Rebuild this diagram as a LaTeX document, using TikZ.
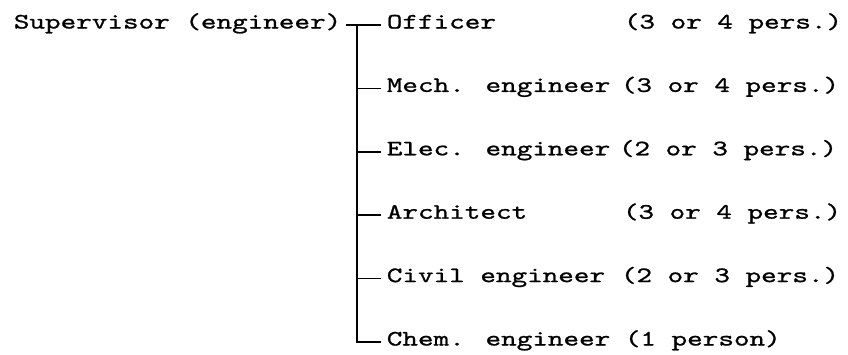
\documentclass[tikz,border=0pt]{standalone}
\usepackage{fontspec}
\newfontfamily\typewriter[FakeStretch=1.35,FakeBold=1]{lmmono10-regular.otf}
\begin{document}
\begin{tikzpicture}[x=1pt,y=-1pt,line width=1.7pt,
  every node/.style={inner sep=0pt,text height=16pt,text depth=9pt,
    font=\typewriter\fontsize{22}{26}\selectfont},
  member/.style={anchor=west,inner xsep=5pt}]
\useasboundingbox(0,0)rectangle(848,354);
%
\node[anchor=west,inner xsep=4pt](sup)at(9,25){Supervisor (engineer)};
\node[member](off)at(381,25){Officer};
\node[member](mech)at(381,88.4){Mech. engineer};
\node[member](elec)at(381,151.8){Elec. engineer};
\node[member](arch)at(381,215.2){Architect};
\node[member](civ)at(381,278.6){Civil engineer};
\node[member](chem)at(381,342){Chem. engineer};
%
\node[anchor=west](offn)at(623,25){(3 or 4 pers.)};
\node[anchor=west](mechn)at(620,88.4){(3 or 4 pers.)};
\node[anchor=west](elecn)at(618,151.8){(2 or 3 pers.)};
\node[anchor=west](archn)at(622,215.2){(3 or 4 pers.)};
\node[anchor=west](civn)at(620,278.6){(2 or 3 pers.)};
\node[anchor=west](chemn)at(624,342){(1 person)};
%
\coordinate(fork)at(357,25);
\draw(sup.east)--(off.west);
\draw[line width=2.2pt](fork)|-(chem.west);
\foreach\n in{mech,elec,arch,civ}
  \draw(fork|-\n.west)--(\n.west);
\end{tikzpicture}
\end{document}
